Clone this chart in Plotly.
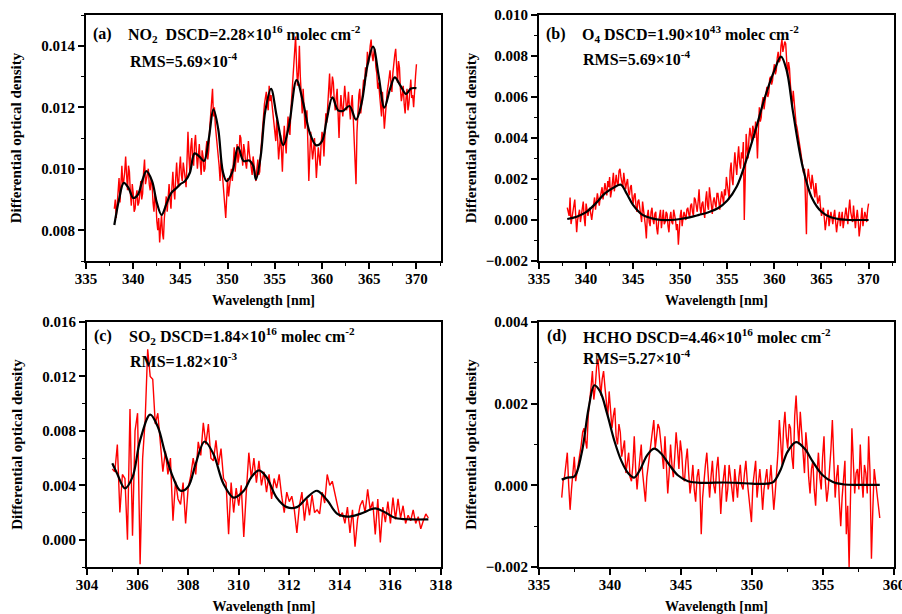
import numpy as np
import plotly.graph_objects as go

W, H = 902, 614
FONT = "Times New Roman, Liberation Serif, serif"

# ---------------- (a) NO2 ----------------
a_red_start, a_red_end = 338.0, 370.0
a_red = [87, 90, 84, 88, 92, 97, 89, 94, 101, 95, 96, 99, 104, 98, 93, 101, 99, 92, 88, 95,
         92, 86, 87, 91, 93, 88, 89, 92, 96, 90, 92, 99, 103, 95, 97, 98, 100, 95, 93, 97,
         95, 89, 86, 92, 90, 83, 80, 84, 76, 81, 85, 79, 77, 84, 88, 91, 86, 92, 95, 90,
         87, 94, 99, 93, 90, 97, 102, 96, 94, 100, 104, 98, 96, 102, 100, 97, 94, 105, 112, 104,
         99, 107, 110, 103, 101, 108, 111, 105, 100, 104, 108, 102, 98, 106, 104, 99, 100, 106, 109, 103,
         106, 113, 118, 122, 126, 117, 120, 114, 111, 108, 105, 101, 96, 103, 100, 95, 92, 88, 84, 92,
         97, 91, 94, 99, 100, 96, 103, 107, 99, 104, 108, 102, 104, 111, 110, 105, 101, 108, 106, 102,
         100, 104, 109, 105, 103, 100, 98, 104, 101, 97, 96, 100, 103, 98, 99, 105, 110, 114, 117, 121,
         123, 125, 121, 119, 127, 122, 124, 121, 118, 114, 112, 109, 116, 110, 103, 107, 111, 106, 99, 108,
         114, 109, 105, 112, 117, 113, 111, 119, 124, 128, 132, 138, 143, 134, 127, 131, 140, 130, 122, 118,
         126, 120, 113, 116, 119, 108, 96, 104, 112, 107, 103, 106, 110, 104, 97, 102, 107, 104, 101, 108,
         112, 110, 104, 111, 118, 115, 122, 126, 131, 123, 125, 130, 128, 122, 119, 123, 126, 118, 110, 119,
         124, 120, 117, 122, 127, 123, 119, 121, 125, 120, 116, 121, 124, 117, 110, 102, 95, 112, 120, 124,
         126, 118, 121, 125, 129, 127, 133, 130, 138, 134, 136, 140, 142, 137, 135, 138, 139, 133, 131, 126,
         128, 124, 120, 117, 125, 119, 113, 117, 122, 125, 127, 130, 132, 128, 125, 131, 135, 137, 139, 131,
         128, 135, 133, 126, 122, 124, 127, 121, 118, 123, 126, 119, 121, 125, 129, 123, 124, 120, 127, 130,
         134]
a_fit_x = [338.0, 338.5, 339.0, 339.5, 340.0, 340.5, 341.0, 341.4, 342.0, 342.5, 343.0, 343.5, 344.0,
           344.5, 345.0, 345.5, 346.0, 346.5, 347.0, 347.5, 348.0, 348.5, 349.0, 349.5, 349.9, 350.5,
           351.1, 351.7, 352.3, 352.7, 353.0, 353.5, 354.0, 354.6, 355.2, 355.9, 356.5, 357.3, 358.0,
           358.7, 359.4, 360.0, 360.5, 361.1, 361.7, 362.2, 362.9, 363.6, 364.2, 364.8, 365.4, 366.0,
           366.6, 367.2, 367.7, 368.3, 368.9, 369.4, 370.0]
a_fit = [81.7, 90.0, 95.4, 93.8, 90.5, 91.6, 96.5, 99.2, 96.0, 89.0, 85.0, 88.4, 92.0,
         93.5, 95.0, 96.0, 98.7, 105.0, 104.0, 102.5, 109.6, 119.3, 113.0, 99.0, 96.0, 99.0,
         107.0, 102.5, 102.7, 101.0, 96.5, 104.0, 119.0, 126.0, 117.0, 107.7, 114.0, 128.8, 121.5,
         111.7, 107.6, 109.0, 116.0, 123.2, 119.0, 118.8, 120.4, 116.0, 121.5, 133.5, 139.7, 130.2,
         119.9, 125.9, 129.7, 127.0, 124.3, 126.1, 126.2]

# ---------------- (b) O4 ----------------
b_red_start, b_red_end = 338.0, 370.0
b_red = [6, 3, 2, 11, -2, 1, 4, 7, 10, 2, -6, 0, 3, 5, -1, 2, 6, 9, 1, -3,
         8, 4, 2, 5, 6, 3, 0, 4, 9, 11, 5, 8, 13, 10, 7, 11, 14, 16, 10, 13,
         18, 15, 12, 19, 16, 21, 11, 14, 19, 23, 14, 20, 22, 18, 17, 24, 25, 21, 18, 16,
         23, 19, 15, 18, 20, 14, 12, 16, 17, 11, 8, 12, 13, 7, 4, 9, 10, 6, 2, -1,
         9, 3, 1, -3, -9, 2, 5, -1, -3, 4, 6, 0, -2, 3, 4, -4, -7, -1, 2, 5,
         -4, 1, 5, -2, -1, 4, 3, -3, -6, 1, 4, -1, -2, 5, 3, 0, -5, -2, -12, -4,
         2, 5, -3, 1, 4, 2, 0, 5, 6, 3, 1, 7, 8, 4, 2, 11, 10, 7, 4, 9,
         15, 6, 3, 8, 9, 4, 1, 10, 14, 7, 5, 16, 12, 7, 3, 9, 11, 8, 6, 13,
         13, 9, 5, 10, 14, 11, 8, 15, 12, 21, 18, 14, 10, 24, 28, 20, 17, 26, 33, 27,
         22, 30, 36, 28, 25, 33, 30, 38, 0, 20, 42, 35, 30, 40, 45, 41, 38, 46, 44, 40,
         48, 42, 30, 44, 55, 48, 50, 57, 60, 54, 58, 63, 65, 60, 62, 69, 70, 66, 68, 73,
         76, 71, 73, 79, 82, 77, 78, 85, 88, 82, 84, 87, 86, 79, 70, 77, 74, 66, 60, 56,
         63, 57, 50, 47, 45, 41, 38, 36, 33, 30, 28, 23, 25, 10, -7, 20, 25, 21, 18, 15,
         22, 17, 14, 11, 18, 13, 8, 10, 12, 6, 2, 4, 6, 1, -5, -1, 3, 5, -3, 0,
         4, 1, -2, 2, 5, -1, -6, -2, 2, 4, -3, 1, 4, -4, 0, 3, 6, 2, -2, 5,
         10, 4, 2, -1, 7, 3, -4, 1, 5, 0, -8, -4, 3, 6, -3, 0, 4, 2, -1, 5,
         8]
b_fit_x = [338, 339, 340, 341, 342, 343, 343.7, 344.3, 345, 346, 347, 348, 349, 350, 351, 352,
           353, 354, 355, 356, 357, 358, 359, 360, 360.7, 361.3, 362, 363, 364, 365, 366, 367,
           368, 369, 370]
b_fit = [0.5, 1.6, 3.8, 8.0, 13.0, 16.0, 17.2, 13.0, 7.3, 2.5, 0.8, 0.0, 0.0, 0.5, 1.3, 2.5,
         3.8, 5.7, 9.5, 16.3, 29.0, 44.0, 60.0, 73.0, 79.7, 73.0, 52.0, 26.0, 10.6, 4.0, 1.3, 0.3,
         0.0, 0.0, 0.0]

# ---------------- (c) SO2 ----------------
c_red_start, c_red_end = 305.0, 317.5
c_red = [52, 50, 70, 20, 48, 45, 0, 96, 3, 80, 93, -18, 60, 88, 140, 120, 118, 85, 93, 70,
         50, 65, 48, 60, 14, 43, 30, 26, 42, 12, 38, 47, 60, 48, 72, 62, 86, 70, 85, 60,
         58, 73, 55, 67, 45, 42, 4, 42, 20, 38, 25, 40, 2, 35, 64, 45, 60, 42, 58, 40,
         50, 35, 48, 30, 45, 38, 48, 32, 20, 35, 28, 32, 22, 5, 25, 35, 14, 30, 18, 33,
         20, 22, 19, 35, 27, 48, 40, 43, 35, 27, 17, 20, 12, 24, 5, 22, -5, 15, 25, 29,
         20, 37, 22, 28, 4, 30, -2, 24, 13, 28, 12, 31, 15, 30, 16, 25, 12, 18, 14, 22,
         12, 17, 8, 14, 19, 16]
c_fit_x = [305.0, 305.2, 305.5, 305.8, 306.1, 306.5, 306.8, 307.1, 307.4, 307.7, 308.0, 308.3,
           308.65, 309.0, 309.4, 309.8, 310.2, 310.5, 310.8, 311.1, 311.5, 311.9, 312.3, 312.7,
           313.1, 313.5, 313.9, 314.3, 314.8, 315.4, 315.8, 316.2, 316.8, 317.5]
c_fit = [56.2, 48.3, 37.8, 46.0, 73.0, 92.0, 83.0, 63.0, 46.0, 36.0, 39.0, 56.0,
         72.2, 63.0, 41.0, 31.0, 36.0, 46.0, 51.0, 46.0, 31.0, 24.0, 24.0, 31.0,
         36.0, 29.0, 19.0, 17.0, 19.0, 23.0, 20.0, 16.0, 15.0, 15.0]

# ---------------- (d) HCHO ----------------
d_red_start, d_red_end = 336.6, 359.0
d_red = [-3, 1, 2, 6, 8, 0, -6, -1, 4, 7, 1, 3, 5, 8, 10, 13, 14, 11, 9, 17,
         20, 24, 28, 21, 24, 29, 31, 25, 22, 26, 28, 24, 20, 17, 23, 19, 14, 17, 19, 12,
         10, 15, 13, 7, 9, 11, 3, 6, 8, 2, 1, 5, 12, 4, -1, 3, 7, 10, 3, 0,
         -4, 2, 5, 8, 10, 13, 16, 9, 12, 15, 14, 10, 7, 4, 12, 6, -2, 3, 10, 5,
         2, 7, 13, 9, 4, 11, 8, 2, 1, 6, 9, 3, -2, 1, 5, -1, -4, 2, 4, 0,
         -12, -3, 2, 5, 8, 1, -3, 2, 6, 0, -2, 4, 7, 1, -7, -1, 3, 5, -4, -1,
         5, 2, 0, -4, 4, 1, -3, 2, 5, 0, -1, 3, 6, 1, -2, -5, -9, 0, 3, 6,
         -3, 1, 4, 0, -6, -1, 2, 4, -1, 1, 5, 0, -6, -2, 3, 8, 16, 11, 5, 14,
         18, 12, 9, 15, 14, 7, 4, 17, 22, 15, 10, 18, 12, 7, 3, 13, 9, 2, -2, 4,
         6, -1, -5, 3, 8, 2, -1, 7, 12, 1, -4, -1, 3, 9, 16, 5, -3, 2, 5, -4,
         -10, -3, 2, 6, -12, -5, -20, -4, 14, 6, -2, 3, 4, -1, 10, 2, -3, 5, 3, -2,
         12, 3, -18, -6, 4, 1, -3, -5, -8]
d_fit_x = [336.6, 337.0, 337.5, 338.0, 338.5, 338.9, 339.3, 339.8, 340.3, 340.8, 341.3, 341.7,
           342.1, 342.6, 343.1, 343.6, 344.2, 344.8, 345.5, 346.5, 348.0, 349.0, 350.0, 351.0,
           351.5, 352.0, 352.5, 353.1, 353.7, 354.3, 355.0, 355.7, 356.5, 357.5, 359.0]
d_fit = [1.4, 1.9, 2.2, 7.8, 19.0, 24.5, 23.0, 17.5, 11.0, 6.0, 2.9, 1.9,
         3.7, 7.3, 9.0, 7.8, 4.9, 2.4, 1.0, 0.6, 0.7, 0.6, 0.4, 0.4,
         0.8, 3.7, 8.2, 10.6, 9.0, 5.7, 2.4, 0.8, 0.2, 0.1, 0.1]

SCALE = 1e-4

panels = [
    dict(red=a_red, rs=a_red_start, re=a_red_end, fx=a_fit_x, fy=a_fit,
         xr=[335, 372.6], xt=[335, 340, 345, 350, 355, 360, 365, 370], xm=2.5, x0=335,
         yr=[0.007, 0.0150], yt=[0.008, 0.010, 0.012, 0.014], ym=0.001, y0=0.007,
         dom_x=(86, 441), dom_y=(15, 261), ystand=16),
    dict(red=b_red, rs=b_red_start, re=b_red_end, fx=b_fit_x, fy=b_fit,
         xr=[335, 372.7], xt=[335, 340, 345, 350, 355, 360, 365, 370], xm=2.5, x0=335,
         yr=[-0.002, 0.010], yt=[-0.002, 0.0, 0.002, 0.004, 0.006, 0.008, 0.010], ym=0.001, y0=-0.002,
         dom_x=(539, 894), dom_y=(15, 261), ystand=5),
    dict(red=c_red, rs=c_red_start, re=c_red_end, fx=c_fit_x, fy=c_fit,
         xr=[304, 318], xt=[304, 306, 308, 310, 312, 314, 316, 318], xm=1, x0=304,
         yr=[-0.002, 0.016], yt=[0.0, 0.004, 0.008, 0.012, 0.016], ym=0.002, y0=-0.002,
         dom_x=(87, 441), dom_y=(322, 567), ystand=16),
    dict(red=d_red, rs=d_red_start, re=d_red_end, fx=d_fit_x, fy=d_fit,
         xr=[335, 360], xt=[335, 340, 345, 350, 355, 360], xm=2.5, x0=335,
         yr=[-0.002, 0.004], yt=[-0.002, 0.0, 0.002, 0.004], ym=0.001, y0=-0.002,
         dom_x=(539, 894), dom_y=(322, 567), ystand=5),
]

fig = go.Figure()
layout = dict(width=W, height=H, margin=dict(l=0, r=0, t=0, b=0),
              paper_bgcolor="white", plot_bgcolor="white", showlegend=False,
              font=dict(family=FONT, color="black"))

for i, p in enumerate(panels):
    n = i + 1
    xa = "x" if n == 1 else f"x{n}"
    ya = "y" if n == 1 else f"y{n}"
    red_x = np.linspace(p["rs"], p["re"], len(p["red"]))
    red_y = np.array(p["red"]) * SCALE
    fig.add_trace(go.Scatter(x=red_x, y=red_y, mode="lines", xaxis=xa, yaxis=ya,
                             line=dict(color="#ff0000", width=1.4), hoverinfo="skip"))
    fig.add_trace(go.Scatter(x=p["fx"], y=np.array(p["fy"]) * SCALE, mode="lines",
                             xaxis=xa, yaxis=ya,
                             line=dict(color="black", width=2.2, shape="spline", smoothing=1.0),
                             hoverinfo="skip"))
    x0, x1 = p["dom_x"]
    y0, y1 = p["dom_y"]
    axis_common = dict(showline=True, linecolor="black", linewidth=2, mirror=True,
                       ticks="outside", ticklen=6, tickwidth=1.6, tickcolor="black",
                       showgrid=False, zeroline=False, automargin=False,
                       ticklabeloverflow="allow",
                       tickfont=dict(family=FONT, size=15, color="black", weight="bold"))
    layout["xaxis" if n == 1 else f"xaxis{n}"] = dict(
        axis_common, domain=[x0 / W, x1 / W], range=p["xr"], tickvals=p["xt"],
        anchor=ya, ticklabelstandoff=-3,
        minor=dict(ticks="outside", ticklen=3, tickwidth=1.3, tickcolor="black",
                   dtick=p["xm"], tick0=p["x0"], showgrid=False),
        title=dict(text="Wavelength [nm]", font=dict(family=FONT, size=14, weight="bold"),
                   standoff=9))
    layout["yaxis" if n == 1 else f"yaxis{n}"] = dict(
        axis_common, domain=[1 - y1 / H, 1 - y0 / H], range=p["yr"], tickvals=p["yt"],
        tickformat=".3f", anchor=xa,
        minor=dict(ticks="outside", ticklen=3, tickwidth=1.3, tickcolor="black",
                   dtick=p["ym"], tick0=p["y0"], showgrid=False),
        title=dict(text="Differential optical density",
                   font=dict(family=FONT, size=15, weight="bold"), standoff=p["ystand"]))

# annotations (pixel positions converted to paper coords)
labels = [
    ("(a)", 92, 34), ("NO<sub>2</sub>  DSCD=2.28×10<sup>16</sup> molec cm<sup>-2</sup>", 127, 34),
    ("RMS=5.69×10<sup>-4</sup>", 129, 60),
    ("(b)", 545, 34), ("O<sub>4</sub> DSCD=1.90×10<sup>43</sup> molec cm<sup>-2</sup>", 581, 34),
    ("RMS=5.69×10<sup>-4</sup>", 582, 58),
    ("(c)", 93, 336), ("SO<sub>2</sub> DSCD=1.84×10<sup>16</sup> molec cm<sup>-2</sup>", 128, 336),
    ("RMS=1.82×10<sup>-3</sup>", 129, 360),
    ("(d)", 546, 336), ("HCHO DSCD=4.46×10<sup>16</sup> molec cm<sup>-2</sup>", 582, 336),
    ("RMS=5.27×10<sup>-4</sup>", 582, 357),
]
anns = []
for text, px, py in labels:
    anns.append(dict(text=text, x=px / W, y=1 - py / H, xref="paper", yref="paper",
                     xanchor="left", yanchor="middle", showarrow=False, borderpad=0,
                     font=dict(family=FONT, size=16, color="black", weight="bold")))
layout["annotations"] = anns

fig.update_layout(**layout)
fig.write_html("out.html")
